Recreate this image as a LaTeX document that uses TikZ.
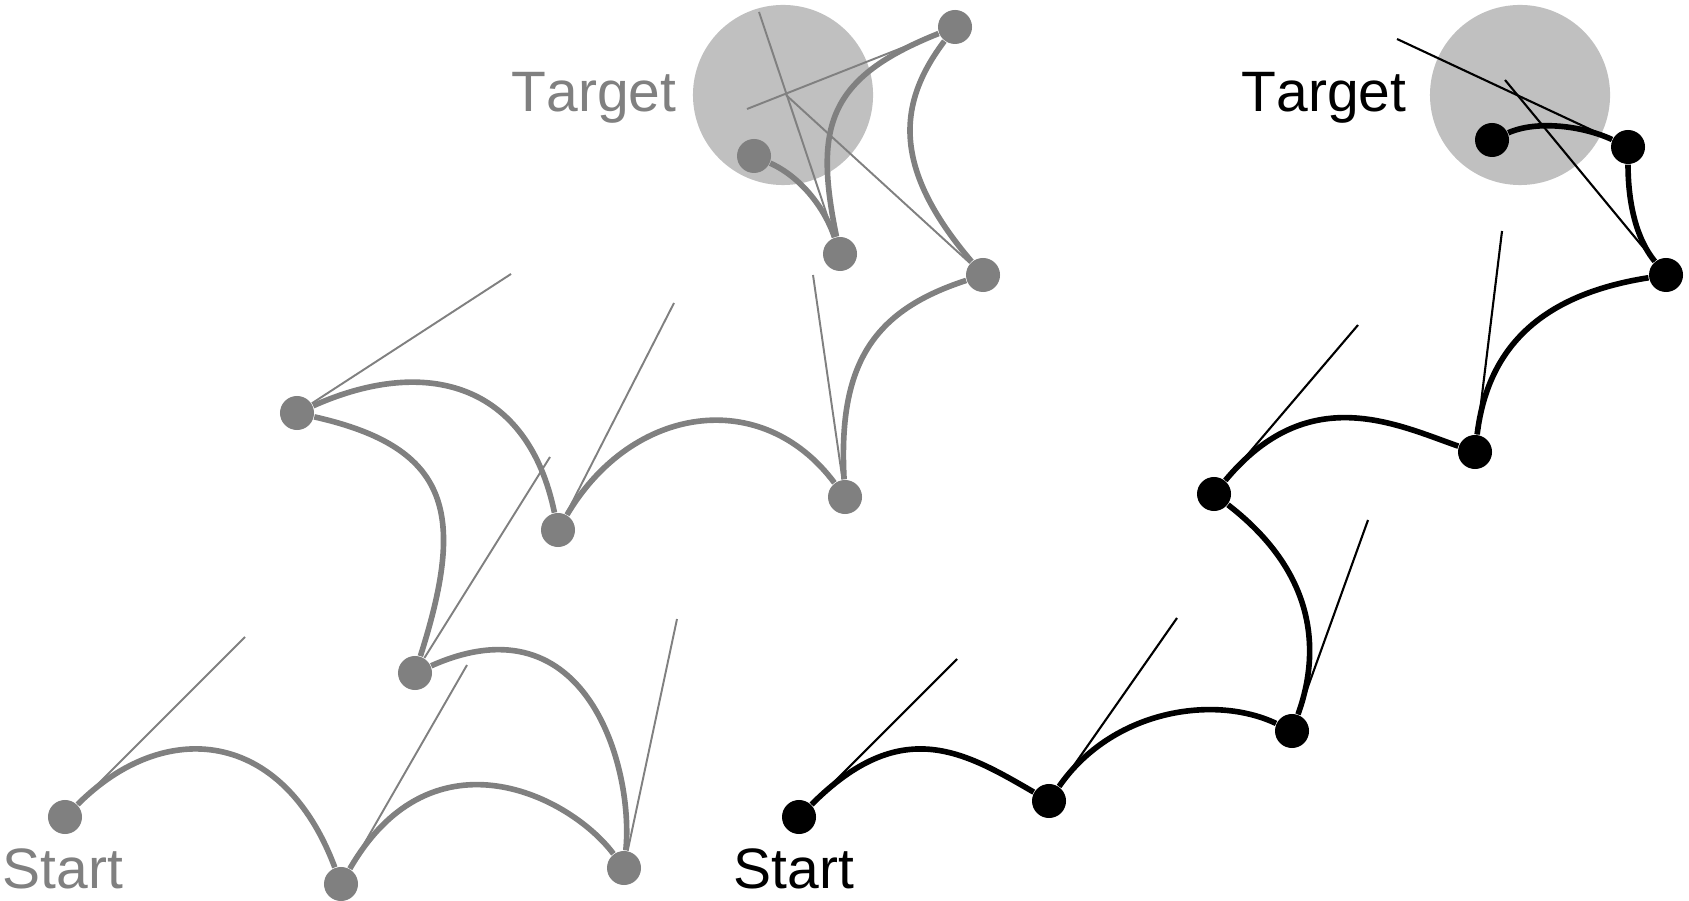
\documentclass[tikz,border=0pt]{standalone}
\usepackage{fontspec}
\setmainfont{Liberation Sans}[Kerning=Off]
\usepackage{tikz}
\usepackage{xcolor}
\definecolor{grey50}{RGB}{128,128,128}
\definecolor{grey75}{RGB}{192,192,192}

\begin{document}
\begin{tikzpicture}[x=0.01cm,y=-0.01cm]
      \useasboundingbox (0,0) rectangle (1689,901);
      \tikzset{Vg/.style = {shape=circle, fill=grey50, inner sep=0pt, minimum size=0.34cm}}
      \tikzset{Vb/.style = {shape=circle, fill=black, inner sep=0pt, minimum size=0.34cm}}
      \tikzset{Eg/.style = {draw=grey50, line width=1.6pt}}
      \tikzset{Eb/.style = {draw=black, line width=1.6pt}}
      \tikzset{Hg/.style = {draw=grey50, line width=0.55pt}}
      \tikzset{Hb/.style = {draw=black, line width=0.6pt}}
      \tikzset{Goal/.style = {shape=circle, fill=grey75, inner sep=0pt, minimum size=1.8cm}}
      \tikzset{Tx/.style = {anchor=base west, inner sep=0pt, font=\fontsize{16.2}{19}\selectfont}}
      \node[Goal](goal0) at (783,95) {};
      \node[Goal](goal1) at (1520,95) {};
      \node[Vg](g0) at (65,817) {};
      \node[Vg](g1) at (341,884) {};
      \node[Vg](g2) at (624,868) {};
      \node[Vg](g3) at (415,673) {};
      \node[Vg](g4) at (297,413) {};
      \node[Vg](g5) at (558,530) {};
      \node[Vg](g6) at (845,497) {};
      \node[Vg](g7) at (983,275) {};
      \node[Vg](g8) at (955,27) {};
      \node[Vg](g9) at (840,254) {};
      \node[Vg](g10) at (754,156) {};
      \node[Vb](b0) at (799,817) {};
      \node[Vb](b1) at (1049,801) {};
      \node[Vb](b2) at (1292,731) {};
      \node[Vb](b3) at (1214,494) {};
      \node[Vb](b4) at (1475,452) {};
      \node[Vb](b5) at (1666,275) {};
      \node[Vb](b6) at (1628,147) {};
      \node[Vb](b7) at (1492,140) {};
      \coordinate (g0h) at (245,637);
      \coordinate (g1h) at (467,665);
      \coordinate (g2h) at (677,619);
      \coordinate (g3h) at (550,457);
      \coordinate (g4h) at (511,274);
      \coordinate (g5h) at (674,303);
      \coordinate (g6h) at (813,275);
      \coordinate (g7h) at (786,95);
      \coordinate (g8h) at (747,109);
      \coordinate (g9h) at (759,12);
      \coordinate (b0h) at (957,659);
      \coordinate (b1h) at (1177,618);
      \coordinate (b2h) at (1368,520);
      \coordinate (b3h) at (1358,325);
      \coordinate (b4h) at (1502,231);
      \coordinate (b5h) at (1505,80);
      \coordinate (b6h) at (1397,39);
      \draw[Hg](g0) -- (g0h);
      \draw[Hg](g1) -- (g1h);
      \draw[Hg](g2) -- (g2h);
      \draw[Hg](g3) -- (g3h);
      \draw[Hg](g4) -- (g4h);
      \draw[Hg](g5) -- (g5h);
      \draw[Hg](g6) -- (g6h);
      \draw[Hg](g7) -- (g7h);
      \draw[Hg](g8) -- (g8h);
      \draw[Hg](g9) -- (g9h);
      \draw[Hb](b0) -- (b0h);
      \draw[Hb](b1) -- (b1h);
      \draw[Hb](b2) -- (b2h);
      \draw[Hb](b3) -- (b3h);
      \draw[Hb](b4) -- (b4h);
      \draw[Hb](b5) -- (b5h);
      \draw[Hb](b6) -- (b6h);
      \draw[Eg](g0) .. controls (165,717) and (283,729) .. (g1);
      \draw[Eg](g1) .. controls (433,725) and (571,797) .. (g2);
      \draw[Eg](g2) .. controls (634,770) and (588,596) .. (g3);
      \draw[Eg](g3) .. controls (465,516) and (453,448) .. (g4);
      \draw[Eg](g4) .. controls (427,355) and (528,384) .. (g5);
      \draw[Eg](g5) .. controls (632,405) and (762,386) .. (g6);
      \draw[Eg](g6) .. controls (838,365) and (872,311) .. (g7);
      \draw[Eg](g7) .. controls (892,168) and (897,104) .. (g8);
      \draw[Eg](g8) .. controls (827,78) and (814,127) .. (g9);
      \draw[Eg](g9) .. controls (824,206) and (799,176) .. (g10);
      \draw[Eb](b0) .. controls (901,715) and (963,751) .. (b1);
      \draw[Eb](b1) .. controls (1112,710) and (1214,694) .. (b2);
      \draw[Eb](b2) .. controls (1319,656) and (1320,576) .. (b3);
      \draw[Eb](b3) .. controls (1308,381) and (1395,424) .. (b4);
      \draw[Eb](b4) .. controls (1488,344) and (1545,294) .. (b5);
      \draw[Eb](b5) .. controls (1634,236) and (1628,197) .. (b6);
      \draw[Eb](b6) .. controls (1583,126) and (1537,120) .. (b7);
      \node[Tx,text=grey50](tg0) at (511,112) {Target};
      \node[Tx,text=grey50](st0) at (2,888) {Start};
      \node[Tx,text=black](tg1) at (1241,112) {Target};
      \node[Tx,text=black](st1) at (733,888) {Start};
    \end{tikzpicture}
\end{document}
